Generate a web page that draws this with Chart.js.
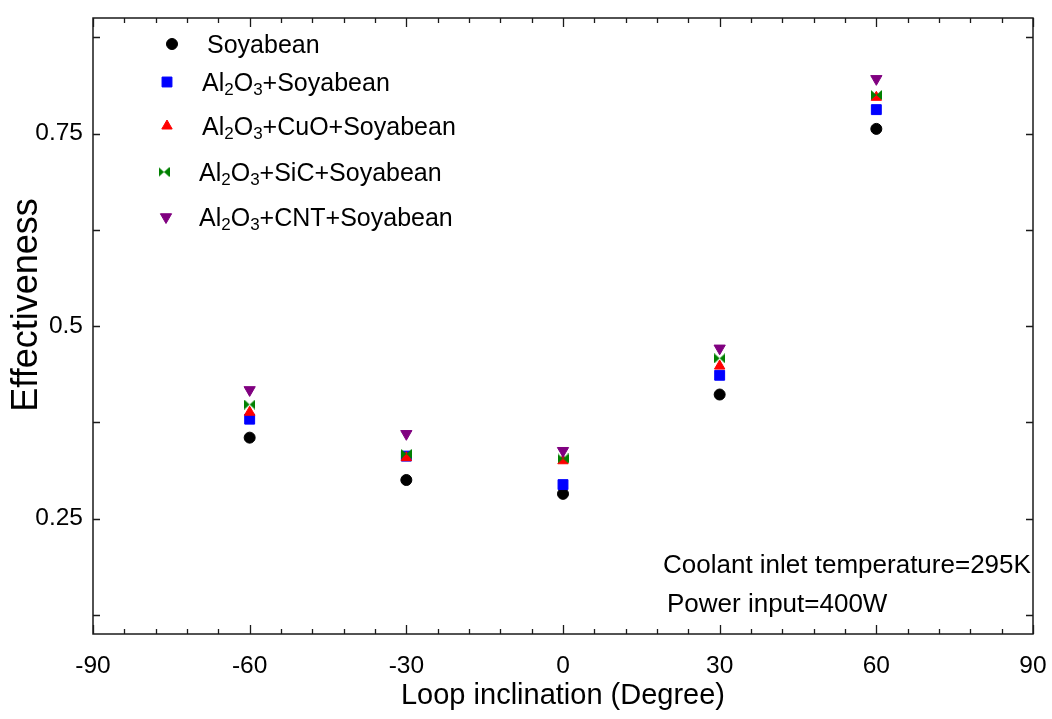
<!DOCTYPE html>
<html>
<head>
<meta charset="utf-8">
<script src="https://cdn.jsdelivr.net/npm/chart.js@4.4.1/dist/chart.umd.min.js"></script>
<style>
    html, body { margin: 0; padding: 0; background: #fff; }
    #wrap { width: 1052px; height: 719px; }
</style>
</head>
<body>
<div id="wrap"><canvas id="grafico" width="1052" height="719"></canvas></div>
<script>
// dados
const inclinacoes = [-60, -30, 0, 30, 60];
const soyabean = [0.355, 0.300, 0.282, 0.411, 0.756];
const al2o3Soyabean = [0.379, 0.331, 0.294, 0.436, 0.781];
const al2o3CuoSoyabean = [0.388, 0.329, 0.325, 0.448, 0.797];
const al2o3SicSoyabean = [0.398, 0.334, 0.328, 0.458, 0.800];
const al2o3CntSoyabean = [0.417, 0.360, 0.338, 0.471, 0.821];

const xTicks = [-90, -60, -30, 0, 30, 60, 90];
const xMinorStep = 6;
const yTicks = [0.25, 0.5, 0.75];
const yMinorStep = 0.125;

const nomes = ['Soyabean', 'Al_2O_3+Soyabean', 'Al_2O_3+CuO+Soyabean', 'Al_2O_3+SiC+Soyabean', 'Al_2O_3+CNT+Soyabean'];
const notas = ['Coolant inlet temperature=295K', 'Power input=400W'];

const FONTE = '"Liberation Sans", Arial, sans-serif';

function criarBowtie(cor) {
    const c = document.createElement('canvas');
    c.width = 11;
    c.height = 10;
    const ctx = c.getContext('2d');
    ctx.fillStyle = cor;
    ctx.beginPath();
    ctx.moveTo(0, 0); ctx.lineTo(5.5, 5); ctx.lineTo(0, 10); ctx.closePath();
    ctx.moveTo(11, 0); ctx.lineTo(5.5, 5); ctx.lineTo(11, 10); ctx.closePath();
    ctx.fill();
    return c;
}

const series = [
    { nome: nomes[0], valores: soyabean, cor: '#000000', estilo: 'circle', raio: 5.5, rot: 0, ordem: 5 },
    { nome: nomes[1], valores: al2o3Soyabean, cor: '#0000FF', estilo: 'rect', raio: 7, rot: 0, ordem: 4 },
    { nome: nomes[2], valores: al2o3CuoSoyabean, cor: '#FF0000', estilo: 'triangle', raio: 6, rot: 0, ordem: 3 },
    { nome: nomes[3], valores: al2o3SicSoyabean, cor: '#008000', estilo: criarBowtie('#008000'), raio: 6, rot: 0, ordem: 2 },
    { nome: nomes[4], valores: al2o3CntSoyabean, cor: '#800080', estilo: 'triangle', raio: 6.5, rot: 180, ordem: 1 }
];

function textoComIndice(ctx, texto, x, y, tam) {
    texto.split(/(_\d)/).forEach(p => {
        if (!p) return;
        if (p[0] === '_') {
            ctx.font = `${tam * 0.68}px ${FONTE}`;
            ctx.fillText(p.slice(1), x, y + tam * 0.16);
            x += ctx.measureText(p.slice(1)).width;
        } else {
            ctx.font = `${tam}px ${FONTE}`;
            ctx.fillText(p, x, y);
            x += ctx.measureText(p).width;
        }
    });
}

const molduraPlugin = {
    id: 'moldura',
    afterDraw(chart) {
        const { ctx, chartArea: a, scales: { x, y } } = chart;
        ctx.save();

        // caixa e ticks para dentro
        ctx.strokeStyle = '#1a1a1a';
        ctx.lineWidth = 1.5;
        ctx.strokeRect(a.left, a.top, a.right - a.left, a.bottom - a.top);
        ctx.lineWidth = 1.3;
        ctx.beginPath();
        for (let v = x.min; v <= x.max + 1e-9; v += xMinorStep) {
            const px = Math.round(x.getPixelForValue(v)) + 0.5;
            const len = xTicks.includes(Math.round(v)) ? 9 : 5;
            ctx.moveTo(px, a.bottom); ctx.lineTo(px, a.bottom - len);
            ctx.moveTo(px, a.top); ctx.lineTo(px, a.top + len);
        }
        for (let v = yMinorStep; v < y.max; v += yMinorStep) {
            const py = Math.round(y.getPixelForValue(v)) + 0.5;
            ctx.moveTo(a.left, py); ctx.lineTo(a.left + 7, py);
            ctx.moveTo(a.right, py); ctx.lineTo(a.right - 7, py);
        }
        ctx.stroke();

        // título do eixo y
        ctx.fillStyle = '#000';
        ctx.save();
        ctx.translate(27, 305);
        ctx.rotate(-Math.PI / 2);
        ctx.textAlign = 'center';
        ctx.textBaseline = 'middle';
        ctx.font = `36px ${FONTE}`;
        ctx.fillText('Effectiveness', 0, 0);
        ctx.restore();

        // legenda
        const linhas = [
            { mx: 79, tx: 114, y: 26 },
            { mx: 74, tx: 109, y: 64 },
            { mx: 74, tx: 109, y: 108 },
            { mx: 71, tx: 106, y: 154 },
            { mx: 73, tx: 106, y: 199 }
        ];
        const desenhar = (Chart.helpers && Chart.helpers.drawPoint) ? Chart.helpers.drawPoint : null;
        series.forEach((s, i) => {
            const l = linhas[i];
            const cx = a.left + l.mx;
            const cy = a.top + l.y;
            if (desenhar) {
                ctx.fillStyle = s.cor;
                ctx.strokeStyle = s.cor;
                ctx.lineWidth = 1;
                desenhar(ctx, { pointStyle: s.estilo, radius: s.raio, rotation: s.rot, borderWidth: 1 }, cx, cy);
            }
            ctx.fillStyle = '#000';
            ctx.textAlign = 'left';
            ctx.textBaseline = 'alphabetic';
            textoComIndice(ctx, s.nome, a.left + l.tx, cy + 9, 25);
        });

        // anotações
        ctx.font = `26px ${FONTE}`;
        ctx.fillText(notas[0], a.left + 570, 573);
        ctx.fillText(notas[1], a.left + 574, 612);

        ctx.restore();
    }
};

const ctx = document.getElementById('grafico').getContext('2d');

new Chart(ctx, {
    type: 'scatter',
    data: {
        datasets: series.map(s => ({
            label: s.nome.replace(/_/g, ''),
            data: inclinacoes.map((x, i) => ({ x: x, y: s.valores[i] })),
            pointStyle: s.estilo,
            pointRadius: s.raio,
            pointRotation: s.rot,
            backgroundColor: s.cor,
            borderColor: s.cor,
            borderWidth: 1,
            order: s.ordem
        }))
    },
    options: {
        responsive: false,
        animation: false,
        layout: { padding: { top: 18, right: 19, left: 0, bottom: 0 } },
        plugins: {
            legend: { display: false },
            tooltip: { enabled: false }
        },
        scales: {
            x: {
                type: 'linear',
                min: -90,
                max: 90,
                grid: { display: false, drawTicks: false },
                border: { display: false },
                afterBuildTicks: s => { s.ticks = xTicks.map(v => ({ value: v })); },
                afterFit: s => {
                    s.height = 85;
                    s.paddingLeft = 0;
                    s.paddingRight = 0;
                },
                ticks: {
                    padding: 18,
                    color: '#000',
                    maxRotation: 0,
                    autoSkip: false,
                    font: { family: FONTE, size: 24.5 },
                    callback: v => String(v)
                },
                title: {
                    display: true,
                    text: 'Loop inclination (Degree)',
                    color: '#000',
                    font: { family: FONTE, size: 29 },
                    padding: { top: 0, bottom: 6 }
                }
            },
            y: {
                min: 0.1,
                max: 0.9,
                grid: { display: false, drawTicks: false },
                border: { display: false },
                afterBuildTicks: s => { s.ticks = yTicks.map(v => ({ value: v })); },
                afterFit: s => {
                    s.width = 93;
                    s.paddingTop = 0;
                    s.paddingBottom = 0;
                },
                ticks: {
                    padding: 10,
                    color: '#000',
                    font: { family: FONTE, size: 24.5 },
                    callback: v => String(v)
                }
            }
        }
    },
    plugins: [molduraPlugin]
});
</script>
</body>
</html>
